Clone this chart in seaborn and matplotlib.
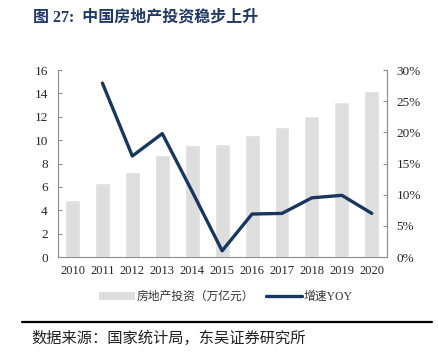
import numpy as np
import pandas as pd
import matplotlib
matplotlib.use("Agg")
import matplotlib.pyplot as plt
import seaborn as sns
from matplotlib.patches import Patch
from matplotlib.lines import Line2D

# data
years = ["2010", "2011", "2012", "2013", "2014", "2015", "2016", "2017", "2018", "2019", "2020"]
invest = [4.9, 6.3, 7.3, 8.7, 9.6, 9.7, 10.4, 11.1, 12.1, 13.3, 14.2]   # 万亿元
yoy = [np.nan, 27.9, 16.2, 19.8, 10.5, 1.0, 6.9, 7.0, 9.5, 9.9, 7.0]   # %
left_ticks = [0, 2, 4, 6, 8, 10, 12, 14, 16]
right_ticks = [0, 5, 10, 15, 20, 25, 30]

bar_color = "#dedede"
line_color = "#17375e"
title_color = "#1f3864"
axis_color = "#8c8c8c"

sns.set_theme(style="white")
plt.rcParams["font.family"] = ["Liberation Serif", "Noto Sans CJK SC", "DejaVu Sans"]

df = pd.DataFrame({"year": years, "invest": invest, "yoy": yoy})
df["pos"] = np.arange(len(df))

fig = plt.figure(figsize=(4.39, 3.59), dpi=100)
ax = fig.add_axes([0.131, 0.284, 0.750, 0.521])

sns.barplot(data=df, x="year", y="invest", color=bar_color, width=0.5,
            saturation=1, ax=ax)
ax.set_ylim(0, 16)
ax.set_yticks(left_ticks)
ax.set_xlim(-0.5, len(years) - 0.5)
ax.set_xlabel("")
ax.set_ylabel("")

ax2 = ax.twinx()
sns.lineplot(data=df, x="pos", y="yoy", color=line_color, linewidth=2.4, ax=ax2)
ax2.set_ylim(0, 30)
ax2.set_yticks(right_ticks)
ax2.set_yticklabels([f"{t}%" for t in right_ticks])
ax2.set_ylabel("")
ax2.set_xlim(-0.5, len(years) - 0.5)

# ticks between categories on the x axis
ax.set_xticks(df["pos"])
ax.set_xticklabels(years)
ax.set_xticks(np.arange(-0.5, len(years)), minor=True)
ax.tick_params(axis="x", which="major", length=0, pad=6, labelsize=9)
ax.tick_params(axis="x", which="minor", direction="in", length=3, color=axis_color, width=0.8)
ax.tick_params(axis="y", direction="in", length=3, color=axis_color, width=0.8, labelsize=9.5, pad=7)
ax2.tick_params(axis="y", direction="in", length=3, color=axis_color, width=0.8, labelsize=9.5, pad=7)

for a in (ax, ax2):
    a.spines["top"].set_visible(False)
    for s in ("left", "right", "bottom"):
        a.spines[s].set_color(axis_color)
        a.spines[s].set_linewidth(0.8)
    a.grid(False)
ax2.spines["left"].set_visible(False)
ax2.spines["bottom"].set_visible(False)

# legend below the plot
handles = [Patch(facecolor=bar_color, edgecolor="none"),
           Line2D([0], [0], color=line_color, linewidth=2.4)]
fig.legend(handles, ["房地产投资（万亿元）", "增速YOY"], loc="center",
           bbox_to_anchor=(0.515, 0.173), ncol=2, frameon=False,
           handlelength=3.0, handletextpad=0.2, columnspacing=1.0,
           prop={"family": ["Liberation Serif", "Noto Sans CJK SC"], "size": 8.5},
           labelcolor="#333333")

# title, rule and source
fig.text(0.075, 0.952, "图 27:  中国房地产投资稳步上升", fontsize=11.5, fontweight="bold",
         color=title_color, ha="left", va="center")
fig.add_artist(Line2D([0.05, 0.985], [0.103, 0.103], color="black", linewidth=1.6))
fig.text(0.072, 0.058, "数据来源：国家统计局，东吴证券研究所", fontsize=11,
         color="#222222", ha="left", va="center")

fig.savefig("out.png", dpi=100)
